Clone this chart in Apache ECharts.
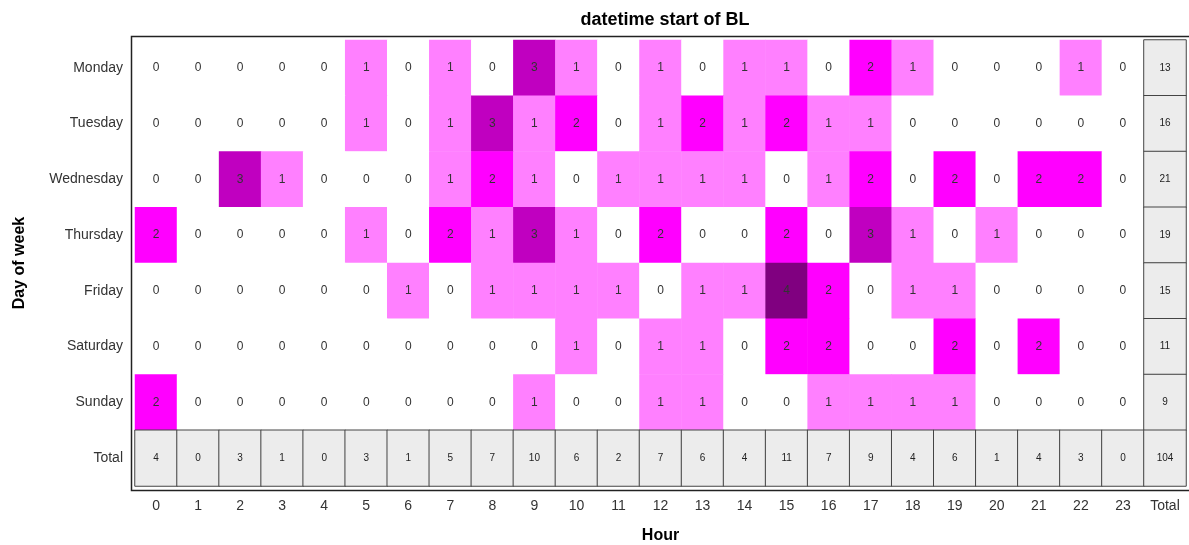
<!DOCTYPE html>
<html><head><meta charset="utf-8">
<script src="https://cdn.jsdelivr.net/npm/echarts@6/dist/echarts.min.js"></script>
<style>html,body{margin:0;padding:0;background:#fff}#c{width:1189px;height:545px}</style>
</head><body><div id="c"></div>
<script>
const hours = ['0','1','2','3','4','5','6','7','8','9','10','11','12','13','14','15','16','17','18','19','20','21','22','23'];
const days = ['Monday','Tuesday','Wednesday','Thursday','Friday','Saturday','Sunday'];
const monday    = [0,0,0,0,0,1,0,1,0,3,1,0,1,0,1,1,0,2,1,0,0,0,1,0];
const tuesday   = [0,0,0,0,0,1,0,1,3,1,2,0,1,2,1,2,1,1,0,0,0,0,0,0];
const wednesday = [0,0,3,1,0,0,0,1,2,1,0,1,1,1,1,0,1,2,0,2,0,2,2,0];
const thursday  = [2,0,0,0,0,1,0,2,1,3,1,0,2,0,0,2,0,3,1,0,1,0,0,0];
const friday    = [0,0,0,0,0,0,1,0,1,1,1,1,0,1,1,4,2,0,1,1,0,0,0,0];
const saturday  = [0,0,0,0,0,0,0,0,0,0,1,0,1,1,0,2,2,0,0,2,0,2,0,0];
const sunday    = [2,0,0,0,0,0,0,0,0,1,0,0,1,1,0,0,1,1,1,1,0,0,0,0];
const rowTotals = [13,16,21,19,15,11,9];
const colTotals = [4,0,3,1,0,3,1,5,7,10,6,2,7,6,4,11,7,9,4,6,1,4,3,0];
const grandTotal = 104;

const rows = [monday,tuesday,wednesday,thursday,friday,saturday,sunday];
const xCats = hours.concat(['Total']);
const yCats = days.concat(['Total']);
const mainData = [];
rows.forEach((r, yi) => r.forEach((v, xi) => mainData.push([xi, yi, v])));
const totalData = [];
rowTotals.forEach((v, yi) => totalData.push([24, yi, v]));
colTotals.forEach((v, xi) => totalData.push([xi, 7, v]));
totalData.push([24, 7, grandTotal]);

const FONT = 'Liberation Sans, Arial, sans-serif';
const chart = echarts.init(document.getElementById('c'), null, {renderer:'canvas'});
chart.setOption({
  animation: false,
  backgroundColor: '#fff',
  title: {
    text: 'datetime start of BL', left: 660, top: 6, textAlign: 'center',
    textStyle: {fontFamily: FONT, fontSize: 18, fontWeight: 'bold', color: '#000'}
  },
  grid: {left: 135, right: 3, top: 40, bottom: 59, containLabel: false, outerBoundsMode: 'none'},
  xAxis: {
    type: 'category', data: xCats, position: 'bottom',
    axisLine: {show: false}, axisTick: {show: false}, splitLine: {show: false},
    axisLabel: {fontFamily: FONT, fontSize: 14, color: '#333', margin: 13},
    name: 'Hour', nameLocation: 'middle', nameGap: 42,
    nameTextStyle: {fontFamily: FONT, fontSize: 16, fontWeight: 'bold', color: '#000'}
  },
  yAxis: {
    type: 'category', data: yCats, inverse: true,
    axisLine: {show: false}, axisTick: {show: false}, splitLine: {show: false},
    axisLabel: {fontFamily: FONT, fontSize: 14, color: '#333', margin: 12},
    name: 'Day of week', nameLocation: 'middle', nameGap: 107, nameRotate: 90,
    nameTextStyle: {fontFamily: FONT, fontSize: 16, fontWeight: 'bold', color: '#000'}
  },
  visualMap: {
    show: false, type: 'piecewise', seriesIndex: 0, dimension: 2,
    pieces: [
      {value: 0, color: '#ffffff'},
      {value: 1, color: '#ff80ff'},
      {value: 2, color: '#ff00ff'},
      {value: 3, color: '#c000c0'},
      {value: 4, color: '#800080'}
    ]
  },
  graphic: [{
    type: 'rect', shape: {x: 131.5, y: 36.5, width: 1060, height: 454},
    style: {fill: 'none', stroke: '#222', lineWidth: 1.5}, silent: true, z: 10
  }],
  series: [{
    type: 'heatmap', data: mainData,
    label: {show: true, fontFamily: FONT, fontSize: 12, color: '#333'},
    itemStyle: {borderWidth: 0}
  }, {
    type: 'heatmap', data: totalData,
    label: {show: true, fontFamily: FONT, fontSize: 10, color: '#222'},
    itemStyle: {color: '#ececec', borderColor: '#444', borderWidth: 1}
  }]
});
</script></body></html>
